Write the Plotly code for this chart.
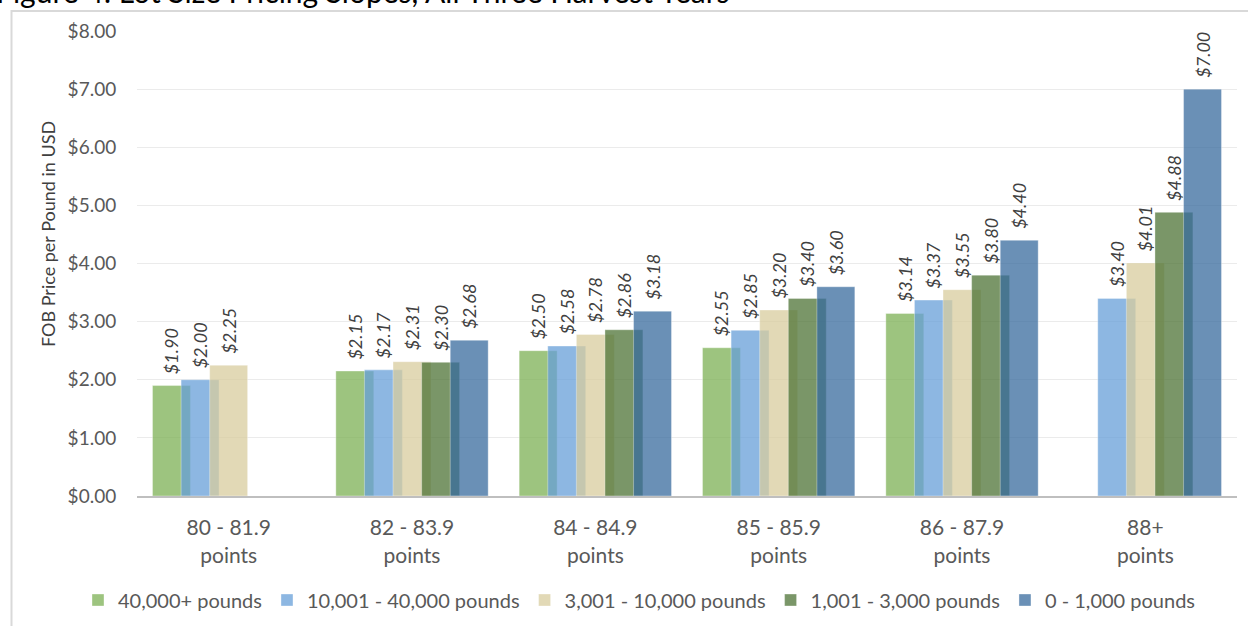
import plotly.graph_objects as go

categories = ["80 - 81.9<br>points", "82 - 83.9<br>points", "84 - 84.9<br>points",
              "85 - 85.9<br>points", "86 - 87.9<br>points", "88+<br>points"]
series_names = ["40,000+ pounds", "10,001 - 40,000 pounds", "3,001 - 10,000 pounds",
                "1,001 - 3,000 pounds", "0 - 1,000 pounds"]
lot_40000_plus = [1.90, 2.15, 2.50, 2.55, 3.14, None]
lot_10001_40000 = [2.00, 2.17, 2.58, 2.85, 3.37, 3.40]
lot_3001_10000 = [2.25, 2.31, 2.78, 3.20, 3.55, 4.01]
lot_1001_3000 = [None, 2.30, 2.86, 3.40, 3.80, 4.88]
lot_0_1000 = [None, 2.68, 3.18, 3.60, 4.40, 7.00]
y_ticks = [0, 1, 2, 3, 4, 5, 6, 7, 8]

series_values = [lot_40000_plus, lot_10001_40000, lot_3001_10000, lot_1001_3000, lot_0_1000]
colors = ["rgba(124,176,84,0.75)", "rgba(103,159,216,0.75)", "rgba(216,204,158,0.75)",
          "rgba(78,115,54,0.75)", "rgba(56,107,158,0.75)"]

FONT = "Lato, 'Open Sans', sans-serif"
W, H = 1248, 626
L, R, T, B = 137, 11, 31, 130
pw, ph = W - L - R, H - T - B

def px_x(x):
    return (x - L) / pw

def px_y(y):
    return (H - B - y) / ph

bar_w = 0.207
step = 0.156
start = -(4 * step + bar_w) / 2
NB = "\u00a0\u00a0"

fig = go.Figure()
for i, (name, vals, col) in enumerate(zip(series_names, series_values, colors)):
    fig.add_trace(go.Bar(
        x=categories, y=vals, name=name,
        marker=dict(color=col, line=dict(color="rgba(255,255,255,0.35)", width=1)),
        width=bar_w, offset=start + i * step,
        text=[(NB + "${:.2f}".format(v)) if v is not None else "" for v in vals],
        textposition="outside", textangle=-90,
        textfont=dict(family=FONT, size=18, color="#404040", style="italic"),
        cliponaxis=False, constraintext="none",
    ))

fig.update_layout(
    width=W, height=H,
    margin=dict(l=L, r=R, t=T, b=B, autoexpand=False),
    barmode="overlay",
    plot_bgcolor="white", paper_bgcolor="white",
    font=dict(family=FONT, color="#595959"),
    showlegend=True,
    legend=dict(orientation="h", xref="paper", yref="paper",
                x=px_x(78), xanchor="left", y=px_y(600), yanchor="middle",
                bgcolor="rgba(0,0,0,0)",
                font=dict(family=FONT, size=20, color="#595959"), traceorder="normal"),
    xaxis=dict(type="category", showline=True, linecolor="#BFBFBF", linewidth=2,
               showgrid=False, ticks="outside", ticklen=12, tickcolor="rgba(0,0,0,0)",
               automargin=False,
               tickfont=dict(family=FONT, size=21, color="#595959")),
    yaxis=dict(range=[0, 8], tickvals=y_ticks, tickformat="$.2f", showgrid=True,
               gridcolor="#EBEBEB", gridwidth=1, zeroline=False, showline=False,
               ticks="outside", ticklen=16, tickcolor="rgba(0,0,0,0)",
               automargin=False,
               tickfont=dict(family=FONT, size=19, color="#595959")),
    shapes=[dict(type="rect", xref="paper", yref="paper",
                 x0=px_x(11.5), x1=1.2, y0=-0.6, y1=px_y(11),
                 line=dict(color="#D9D9D9", width=2), fillcolor="rgba(0,0,0,0)", layer="below")],
    annotations=[
        dict(text="FOB Price per Pound in USD", xref="paper", yref="paper",
             x=px_x(48), y=px_y(234), textangle=-90, showarrow=False,
             xanchor="center", yanchor="middle",
             font=dict(family=FONT, size=18, color="#404040")),
        dict(text="Figure 4: Lot Size Pricing Slopes, All Three Harvest Years",
             xref="paper", yref="paper", x=px_x(-6), y=px_y(11), xanchor="left", yanchor="bottom",
             showarrow=False, font=dict(family=FONT, size=30, color="#000000")),
    ],
)

fig.write_html("out.html", config={"displayModeBar": False},
               post_script="document.body.style.margin='0px';document.body.style.overflow='hidden';")
